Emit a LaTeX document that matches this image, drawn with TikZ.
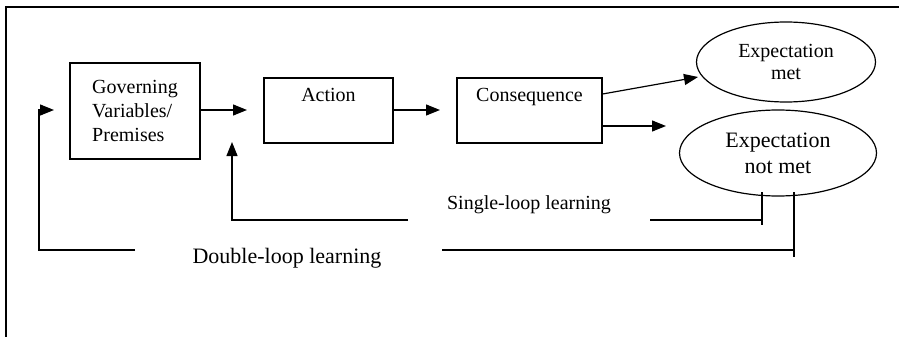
\documentclass[tikz,border=0pt]{standalone}
\usepackage{fontspec}
\setmainfont{Liberation Serif}
\usetikzlibrary{shapes.geometric,arrows.meta}

\begin{document}
\begin{tikzpicture}[x=1pt, y=-1pt, line width=1.2pt,
    box/.style={draw, rectangle, inner sep=0pt, font=\fontsize{20}{24}\selectfont},
    oval/.style={draw, ellipse, inner sep=0pt, align=center},
    link/.style={-{Triangle[length=14pt,width=11pt]}}]
    \useasboundingbox (0,0) rectangle (899,337);
    \draw[line width=2pt] (6,337) -- (6,7) -- (899,7);
    % boxes and outcomes
    \node [box, minimum width=130, minimum height=96, align=left] (gov) at (135,111) {Governing\\Variables/\\Premises};
    \node [box, minimum width=129, minimum height=65, align=center] (act) at (328.5,110.5) {Action\\ \strut};
    \node [box, minimum width=145, minimum height=65, align=center] (cons) at (529.5,110.5) {Consequence\\ \strut};
    \node [oval, minimum width=179, minimum height=80, font=\fontsize{20}{22}\selectfont] (met) at (786,62) {Expectation\\met};
    \node [oval, minimum width=197, minimum height=86, font=\fontsize{22}{26}\selectfont] (notmet) at (778,153) {Expectation\\not met};
    % loose ends
    \coordinate (gap) at (247,110);
    \coordinate (gapin) at (440,110);
    \coordinate (mettip) at (698,77);
    \coordinate (nottip) at (666,126);
    \coordinate (dtip) at (54,110);
    \coordinate (stip) at (232,142);
    \coordinate (s1) at (762,192);
    \coordinate (d1) at (794,192);
    % forward arrows
    \draw [link] (gov.east |- gap) -- (gap);
    \draw [link] (act.east |- gapin) -- (gapin);
    \draw [link] (cons.east |- 0,94) -- (mettip);
    \draw [link] (cons.east |- nottip) -- (nottip);
    % single loop
    \node (single) at (529,205) {\fontsize{20}{24}\selectfont Single-loop learning};
    \draw (s1) -- (762,225);
    \draw (762,220) -- (650,220);
    \draw [link] (408,220) -- (232,220) -- (stip);
    % double loop
    \node (double) at (287,258) {\fontsize{22}{26}\selectfont Double-loop learning};
    \draw (d1) -- (794,257);
    \draw (794,250) -- (442,250);
    \draw [link] (135,250) -- (39,250) -- (39,110) -- (dtip);
\end{tikzpicture}
\end{document}
